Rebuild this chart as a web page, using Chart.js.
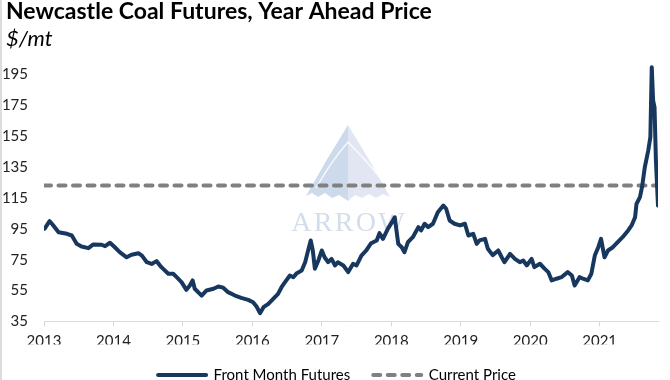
<!DOCTYPE html>
<html>
<head>
<meta charset="utf-8">
<script src="https://cdn.jsdelivr.net/npm/chart.js@4/dist/chart.umd.min.js"></script>
<style>
  html, body { margin: 0; padding: 0; background: #ffffff; }
  #wrap { width: 670px; height: 380px; position: relative; }
</style>
</head>
<body>
<div id="wrap"><canvas id="c" width="670" height="380"></canvas></div>
<script>
// ---- data ----
const titleText = 'Newcastle Coal Futures, Year Ahead Price';
const unitText = '$/mt';
const seriesNames = ['Front Month Futures', 'Current Price'];

const dates = [
  2013.01, 2013.08, 2013.12, 2013.21, 2013.33, 2013.40, 2013.47, 2013.54, 2013.64, 2013.71,
  2013.83, 2013.88, 2013.95, 2014.02, 2014.09, 2014.19, 2014.26, 2014.36, 2014.41, 2014.48,
  2014.55, 2014.62, 2014.69, 2014.79, 2014.86, 2014.91, 2014.98, 2015.05, 2015.10, 2015.14,
  2015.17, 2015.27, 2015.34, 2015.44, 2015.51, 2015.58, 2015.65, 2015.75, 2015.84, 2015.94,
  2016.01, 2016.06, 2016.11, 2016.16, 2016.23, 2016.30, 2016.37, 2016.42, 2016.47, 2016.54,
  2016.59, 2016.64, 2016.71, 2016.76, 2016.79, 2016.84, 2016.87, 2016.90, 2016.95, 2017.00,
  2017.04, 2017.09, 2017.14, 2017.19, 2017.23, 2017.31, 2017.38, 2017.45, 2017.50, 2017.57,
  2017.64, 2017.71, 2017.79, 2017.83, 2017.88, 2017.95, 2018.03, 2018.05, 2018.10, 2018.15,
  2018.19, 2018.24, 2018.31, 2018.39, 2018.43, 2018.48, 2018.53, 2018.60, 2018.67, 2018.75,
  2018.79, 2018.84, 2018.91, 2018.99, 2019.06, 2019.11, 2019.18, 2019.23, 2019.27, 2019.35,
  2019.39, 2019.46, 2019.54, 2019.59, 2019.63, 2019.71, 2019.78, 2019.85, 2019.90, 2019.95,
  2020.02, 2020.06, 2020.14, 2020.21, 2020.26, 2020.31, 2020.38, 2020.45, 2020.54, 2020.60,
  2020.64, 2020.71, 2020.76, 2020.83, 2020.88, 2020.93, 2020.98, 2021.02, 2021.07, 2021.12,
  2021.19, 2021.26, 2021.33, 2021.41, 2021.46, 2021.51, 2021.53, 2021.58, 2021.61, 2021.65,
  2021.70, 2021.73, 2021.75, 2021.77, 2021.79, 2021.81, 2021.84
];
const prices = [
  95.2, 100.0, 98.0, 92.8, 91.8, 90.7, 85.3, 83.6, 82.5, 84.9,
  84.7, 83.8, 86.0, 83.1, 79.9, 76.6, 78.2, 79.2, 77.7, 73.4,
  72.3, 74.1, 70.2, 65.9, 65.9, 63.7, 60.5, 55.5, 58.3, 61.6,
  56.2, 51.8, 55.1, 56.2, 57.7, 56.9, 54.0, 51.8, 50.3, 49.0,
  47.5, 44.7, 40.4, 44.3, 46.4, 49.7, 52.9, 57.2, 60.5, 64.8,
  63.7, 66.3, 68.0, 73.4, 78.8, 87.5, 81.0, 69.1, 74.5, 81.0,
  76.6, 73.4, 75.6, 71.3, 73.4, 71.3, 67.0, 72.4, 71.3, 77.7,
  81.0, 85.7, 87.5, 92.2, 88.5, 95.0, 100.8, 102.5, 85.3, 83.1,
  79.9, 86.4, 89.6, 96.1, 94.0, 98.3, 96.1, 98.3, 105.8, 110.1,
  108.0, 100.4, 98.3, 97.2, 98.3, 90.7, 91.8, 85.3, 87.5, 88.5,
  82.1, 78.0, 81.0, 76.6, 73.4, 78.8, 75.6, 73.4, 74.5, 71.3,
  75.6, 70.2, 72.4, 69.1, 67.0, 61.6, 62.7, 63.7, 67.0, 64.8,
  58.3, 63.7, 62.7, 61.6, 65.9, 77.7, 83.1, 88.5, 76.6, 81.0,
  83.1, 86.4, 89.6, 94.0, 97.2, 102.5, 111.1, 115.5, 122.0, 134.9,
  145.8, 154.4, 199.7, 178.1, 173.8, 139.3, 110.1
];
const currentPrice = 123;
const xTicks = [2013, 2014, 2015, 2016, 2017, 2018, 2019, 2020, 2021];
const yTicks = [35, 55, 75, 95, 115, 135, 155, 175, 195];

// ---- styles ----
const navy = '#17375E';
const gray = '#808080';
const FONT = 'Lato, "Open Sans", "Liberation Sans", sans-serif';

const watermark = {
  id: 'watermark',
  afterLayout(chart) {
    // indent the title and subtitle a little from the left edge
    chart.boxes.forEach(b => {
      if (b.options && (b.options.text === titleText || b.options.text === unitText)) {
        b.left = 6;
      }
    });
    if (chart.legend) {
      chart.legend.left += 8;
      chart.legend.right += 8;
    }
  },
  beforeDraw(chart) {
    const ctx = chart.ctx;
    ctx.save();
    ctx.fillStyle = '#ffffff';
    ctx.fillRect(0, 0, chart.width, chart.height);
    ctx.fillStyle = '#dcdcdc';
    ctx.fillRect(0, 0, 2, chart.height);
    ctx.restore();
  },
  beforeDatasetsDraw(chart) {
    const ctx = chart.ctx;
    ctx.save();
    // left half of sail
    ctx.beginPath();
    ctx.moveTo(348, 125);
    ctx.quadraticCurveTo(326, 160, 306, 196);
    ctx.lineTo(312, 193); ctx.lineTo(318, 197); ctx.lineTo(325, 193); ctx.lineTo(332, 198);
    ctx.lineTo(339, 195); ctx.lineTo(348, 201);
    ctx.closePath();
    ctx.fillStyle = 'rgba(176,198,224,0.65)';
    ctx.fill();
    // right half of sail
    ctx.beginPath();
    ctx.moveTo(348, 125);
    ctx.quadraticCurveTo(370, 160, 390, 197);
    ctx.lineTo(383, 194); ctx.lineTo(376, 198); ctx.lineTo(369, 194); ctx.lineTo(362, 198);
    ctx.lineTo(355, 195); ctx.lineTo(348, 201);
    ctx.closePath();
    ctx.fillStyle = 'rgba(205,214,234,0.6)';
    ctx.fill();
    // white chevron
    ctx.beginPath();
    ctx.moveTo(316, 188);
    ctx.quadraticCurveTo(332, 160, 348, 142);
    ctx.quadraticCurveTo(366, 160, 383, 181);
    ctx.strokeStyle = 'rgba(255,255,255,0.9)';
    ctx.lineWidth = 1.2;
    ctx.stroke();
    // text
    ctx.font = '28px "Liberation Serif", "DejaVu Serif", serif';
    ctx.fillStyle = 'rgba(200,212,230,0.8)';
    ctx.textAlign = 'center';
    ctx.textBaseline = 'middle';
    ctx.fillText('A R R O W'.replace(/ /g, '\u200A'), 348, 224);
    ctx.restore();
  }
};

const ctx = document.getElementById('c').getContext('2d');
new Chart(ctx, {
  type: 'line',
  data: {
    datasets: [
      {
        label: seriesNames[0],
        data: dates.map((d, i) => ({ x: d, y: prices[i] })),
        borderColor: navy,
        backgroundColor: navy,
        borderWidth: 4,
        pointRadius: 0,
        tension: 0,
        borderJoinStyle: 'round',
        borderCapStyle: 'round',
        order: 1
      },
      {
        label: seriesNames[1],
        data: [{ x: dates[0] - 0.01, y: currentPrice }, { x: dates[dates.length - 1], y: currentPrice }],
        borderColor: gray,
        backgroundColor: gray,
        borderWidth: 4,
        borderDash: [7, 7.5],
        borderCapStyle: 'round',
        pointRadius: 0,
        order: 2
      }
    ]
  },
  plugins: [watermark],
  options: {
    responsive: false,
    animation: false,
    devicePixelRatio: 1,
    layout: { padding: { left: 0, right: 12, top: 0, bottom: 0 } },
    plugins: {
      title: {
        display: true,
        text: titleText,
        align: 'start',
        color: '#000000',
        font: { family: FONT, size: 23, weight: 'bold', lineHeight: 1 },
        padding: { top: 0, bottom: 0 }
      },
      subtitle: {
        display: true,
        text: unitText,
        align: 'start',
        color: '#000000',
        font: { family: FONT, size: 22, style: 'italic', lineHeight: 1 },
        padding: { top: 4.5, bottom: 9.5 }
      },
      legend: {
        display: true,
        position: 'bottom',
        maxHeight: 35.5,
        labels: {
          usePointStyle: true,
          pointStyleWidth: 48,
          padding: 23,
          color: '#333333',
          font: { family: FONT, size: 15 },
          generateLabels() {
            return [
              { text: seriesNames[0], fillStyle: navy, strokeStyle: navy, lineWidth: 4, lineDash: [], lineCap: 'round', pointStyle: 'line', datasetIndex: 0 },
              { text: seriesNames[1], fillStyle: gray, strokeStyle: gray, lineWidth: 4, lineDash: [7, 7.5], lineCap: 'round', pointStyle: 'line', datasetIndex: 1 }
            ];
          }
        }
      },
      tooltip: { enabled: false }
    },
    scales: {
      x: {
        type: 'linear',
        min: 2013,
        max: 2021.84,
        afterBuildTicks(scale) { scale.ticks = xTicks.map(v => ({ value: v })); },
        afterFit(scale) { scale.height = 23; },
        border: { display: true, color: '#d9d9d9', width: 1 },
        grid: { display: true, drawOnChartArea: false, drawTicks: true, tickLength: 5, color: '#d9d9d9' },
        ticks: {
          autoSkip: false,
          maxRotation: 0,
          padding: 6,
          color: '#222222',
          font: { family: FONT, size: 15 },
          callback: v => String(v)
        }
      },
      y: {
        type: 'linear',
        min: 35,
        max: 205,
        afterBuildTicks(scale) { scale.ticks = yTicks.map(v => ({ value: v })); },
        afterFit(scale) { scale.width = 44; },
        border: { display: false },
        grid: { display: false, drawTicks: false },
        ticks: {
          padding: 16,
          color: '#222222',
          font: { family: FONT, size: 15 },
          callback: v => String(v)
        }
      }
    }
  }
});
</script>
</body>
</html>
